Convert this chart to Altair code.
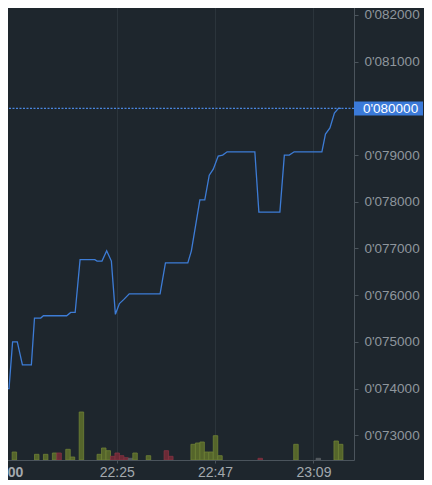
import altair as alt
import pandas as pd

# ---- data (minutes after 22:00, price) ----
line_min = [-1.1, 0.9, 1.7, 2.75, 3.9, 5.9, 6.6, 8.0, 8.6, 13.8, 14.7, 15.7, 16.8, 20.1,
            20.6, 21.7, 22.75, 23.8, 24.7, 25.6, 26.6, 27.8, 34.7, 35.9, 40.9, 41.7,
            43.6, 44.7, 45.7, 46.6, 47.7, 48.7, 49.7, 55.9, 56.8, 61.5, 62.5, 63.6,
            64.7, 70.9, 71.7, 72.7, 73.7, 74.6, 75.2]
line_price = [0.07400, 0.07400, 0.07500, 0.07500, 0.07451, 0.07451, 0.07551, 0.07551,
              0.07556, 0.07556, 0.07563, 0.07563, 0.07676, 0.07676, 0.07673, 0.07673,
              0.07695, 0.07673, 0.07559, 0.07582, 0.07591, 0.07603, 0.07603, 0.07669,
              0.07669, 0.07695, 0.07804, 0.07804, 0.07857, 0.07870, 0.07898, 0.07900,
              0.07907, 0.07907, 0.07778, 0.07778, 0.07900, 0.07900, 0.07907, 0.07907,
              0.07945, 0.07958, 0.07990, 0.08000, 0.08000]

vol_start = [1.6, 6.6, 8.6, 10.6, 11.6, 13.6, 14.6, 16.6, 20.6, 21.6, 22.6, 23.6, 24.6,
             25.6, 26.6, 27.6, 28.6, 31.6, 35.6, 36.6, 41.6, 42.6, 43.6, 44.6, 45.6,
             46.6, 47.6, 56.6, 64.6, 69.6, 73.6, 74.6]
vol_value = [8, 5.7, 5.7, 7, 7, 10.7, 3, 48, 5.7, 12, 9.3, 3.7, 7, 4.3, 2.3, 1.7, 7, 4.3,
             9.3, 3.7, 15.7, 17, 18, 8, 8, 24.3, 4.3, 1.7, 15.7, 1.7, 19, 15.7]
vol_dir = ["up", "up", "up", "up", "down", "up", "up", "up", "up", "up", "up", "down",
           "down", "down", "down", "flat", "up", "up", "down", "down", "up", "up", "up",
           "up", "up", "up", "up", "down", "up", "flat", "up", "up"]

price_ticks = [0.073, 0.074, 0.075, 0.076, 0.077, 0.078, 0.079, 0.080, 0.081, 0.082]
last_price = [0.080]

BASE = pd.Timestamp("2024-05-01 22:00:00")


def ts(m):
    return BASE + pd.to_timedelta(m, unit="m")


line_df = pd.DataFrame({"time": [ts(m) for m in line_min], "price": line_price})
vol_df = pd.DataFrame({
    "start": [ts(m) for m in vol_start],
    "end": [ts(m + 1.0) for m in vol_start],
    "vol": vol_value,
    "dir": vol_dir,
})
last_df = pd.DataFrame({"price": last_price})

BG = "#1e262d"
BLUE = "#3d7cd6"
AXIS = "#4b545c"
GRID = "#2b343b"
LABEL = "#8f969d"


def dt(h, m, s=0):
    return alt.DateTime(year=2024, month=5, date=1, hours=h, minutes=m, seconds=s)


x_scale = alt.Scale(domain=[dt(21, 58, 53), dt(23, 18, 5)])
x_axis = alt.Axis(
    values=[dt(22, 0), dt(22, 25), dt(22, 47), dt(23, 9)],
    format="%H:%M", title=None, labelFlush=False, labelOverlap=False,
    labelFontSize=14, labelColor="#a3a9ae", tickSize=3, labelPadding=2,
    labelFontWeight={"condition": {"test": "hours(datum.value)==22 && minutes(datum.value)==0",
                                   "value": "bold"}, "value": "normal"},
)
p_scale = alt.Scale(domain=[0.072471, 0.082214], zero=False, nice=False)
p_axis = alt.Axis(
    orient="right", values=price_ticks, title=None, tickSize=4, labelPadding=6,
    labelFontSize=13.5, labelColor=LABEL,
    labelExpr="abs(datum.value-0.08)<1e-9 ? '' : replace(format(datum.value,'.6f'),'.',\"'\")",
)

bars = alt.Chart(vol_df).mark_rect(strokeWidth=0.8, clip=True).encode(
    x=alt.X("start:T", scale=x_scale, axis=x_axis),
    x2="end:T",
    y=alt.Y("vol:Q", scale=alt.Scale(domain=[0, 455]), axis=None),
    fill=alt.Fill("dir:N", scale=alt.Scale(domain=["up", "down", "flat"],
                                           range=["#55652b", "#6b2a36", "#50565b"]), legend=None),
    stroke=alt.Stroke("dir:N", scale=alt.Scale(domain=["up", "down", "flat"],
                                               range=["#6f8136", "#873342", "#5b6166"]), legend=None),
)

line = alt.Chart(line_df).mark_line(color=BLUE, strokeWidth=1.3, clip=True).encode(
    x=alt.X("time:T", scale=x_scale, axis=x_axis),
    y=alt.Y("price:Q", scale=p_scale, axis=p_axis),
)

dotted = alt.Chart(last_df).mark_rule(color="#4a86e0", strokeDash=[2, 1.5], strokeWidth=1.2).encode(
    y=alt.Y("price:Q", scale=p_scale, axis=p_axis),
)

box = alt.Chart(last_df).mark_rule(color="#3b7ad9", strokeWidth=14, strokeCap="butt").encode(
    x=alt.value(354), x2=alt.value(423),
    y=alt.Y("price:Q", scale=p_scale, axis=p_axis),
)

label = alt.Chart(last_df).transform_calculate(
    txt="replace(format(datum.price,'.6f'),'.',\"'\")"
).mark_text(align="left", baseline="middle", color="#ffffff", fontSize=13.5,
            font="Liberation Sans", dy=1).encode(
    x=alt.value(363),
    y=alt.Y("price:Q", scale=p_scale, axis=p_axis),
    text="txt:N",
)

chart = alt.layer(bars, alt.layer(line, dotted, box, label)).resolve_scale(
    y="independent"
).properties(
    width=354, height=455,
    autosize=alt.AutoSizeParams(type="none"),
    padding={"left": -8, "top": -3, "right": 70, "bottom": 20},
    background=BG,
).configure_view(stroke=None, fill=BG).configure_axis(
    domainColor=AXIS, tickColor=AXIS, gridColor=GRID, gridWidth=1,
    labelFont="Liberation Sans", grid=True,
)

chart.save("out.html", embed_options={"renderer": "svg", "actions": False})
